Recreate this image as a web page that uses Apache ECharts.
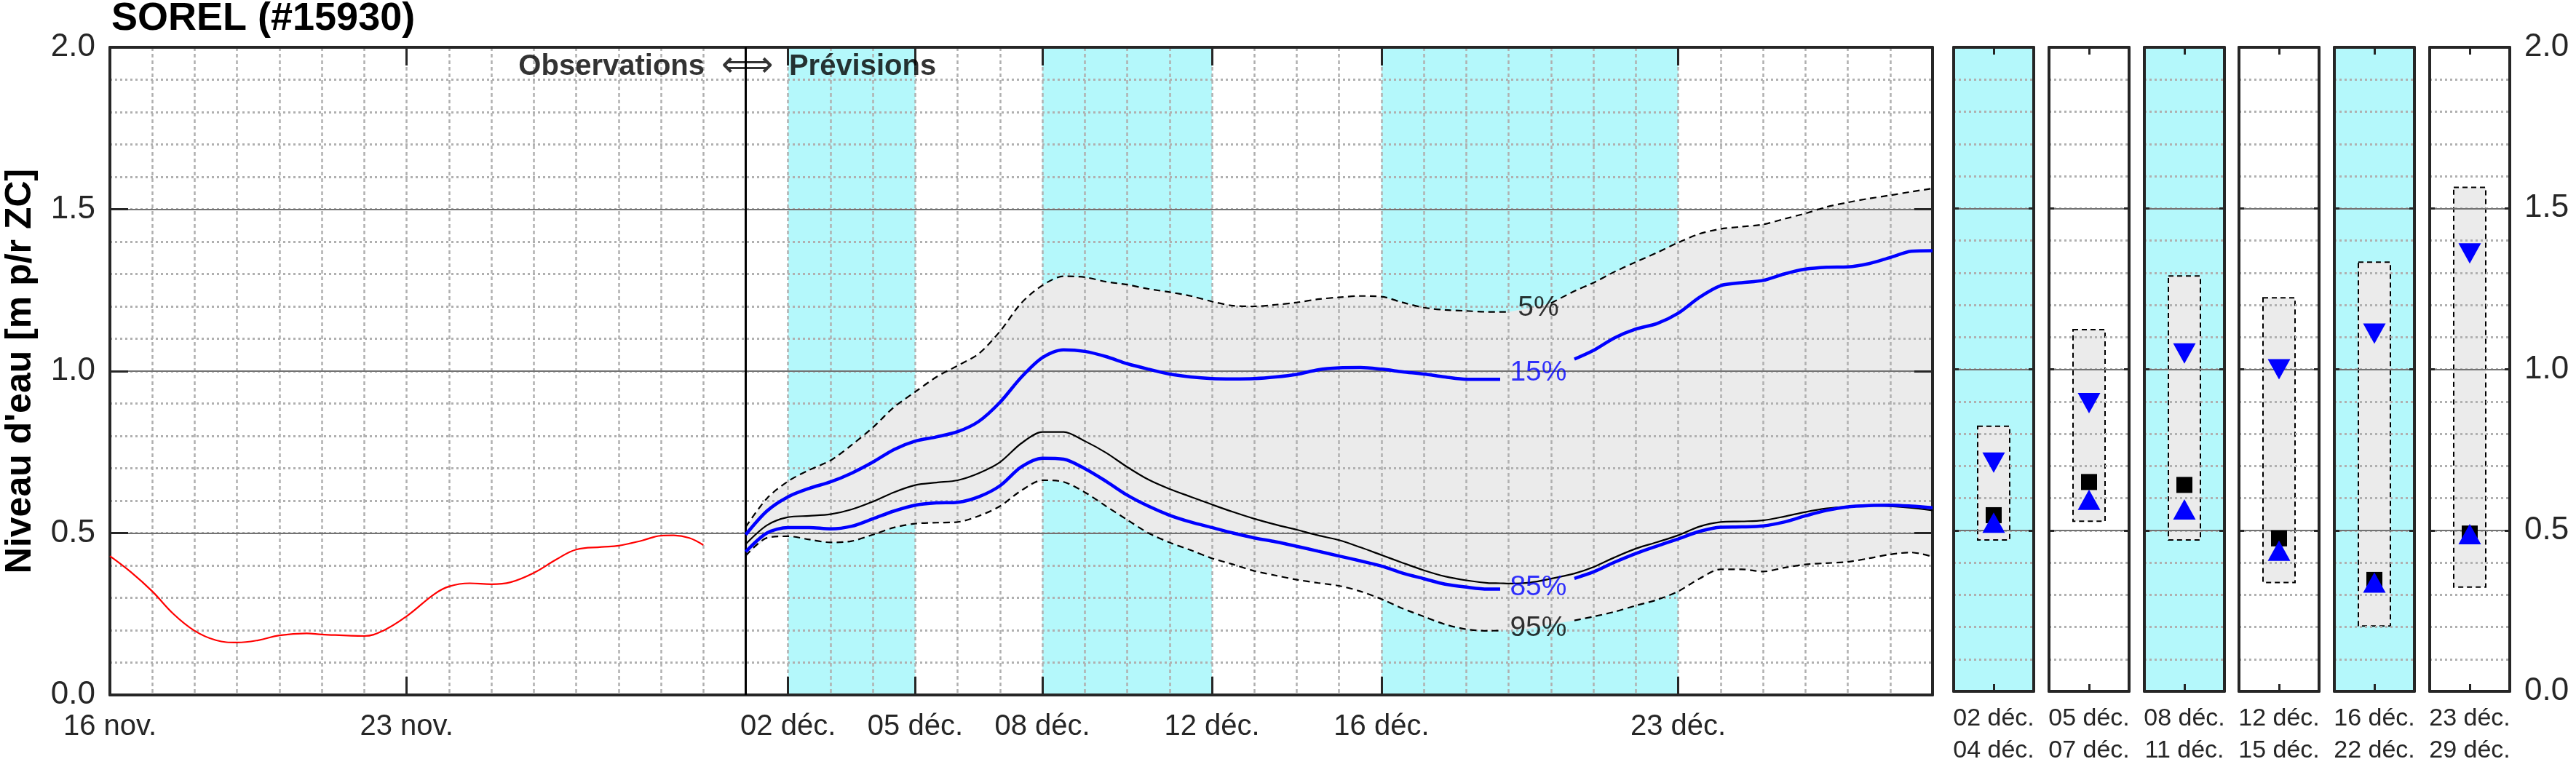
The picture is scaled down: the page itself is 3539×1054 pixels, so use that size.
<!DOCTYPE html>
<html><head><meta charset="utf-8">
<script src="https://cdn.jsdelivr.net/npm/echarts@6/dist/echarts.min.js"></script>
<style>html,body{margin:0;padding:0;background:#fff}#c{width:3539px;height:1054px}</style>
</head><body><div id="c"></div>
<script>
// ---------- DATA ----------
const TITLE = 'SOREL (#15930)';
const Y_TITLE = "Niveau d'eau [m p/r ZC]";
const X_MIN = 0, X_MAX = 43;               // days since 16 nov.
const X_TICK_DAYS = [0, 7, 16, 19, 22, 26, 30, 37];
const X_TICK_LABELS = ['16 nov.', '23 nov.', '02 déc.', '05 déc.', '08 déc.', '12 déc.', '16 déc.', '23 déc.'];
const NOW_DAY = 15;
const CYAN_BANDS = [[16, 19], [22, 26], [30, 37]];

const OBS_DAYS = [0,0.5,1,1.5,2,2.5,3,3.5,4,4.64,5,6,6.44,7,7.65,8,8.49,9,9.45,10,10.54,11,11.6,12,12.56,13,13.3,13.67,14];
const OBS_VALUES = [0.429,0.379,0.320,0.250,0.198,0.169,0.162,0.169,0.184,0.190,0.187,0.182,0.198,0.243,0.311,0.335,0.345,0.342,0.348,0.377,0.419,0.449,0.457,0.461,0.477,0.492,0.493,0.485,0.463];

const F_DAYS = [15,15.5,16,16.5,17,17.5,18,18.5,19,19.5,20,20.5,21,21.5,22,22.5,23,23.5,24,24.5,25,25.5,26,26.5,27,27.5,28,28.5,29,29.5,30,30.5,31,31.5,32,32.5,32.8,33,33.5,34,34.55,35,35.5,36,36.5,37,37.5,38,38.5,39,39.5,40,40.5,41,41.5,42,42.5,43];
const P5 = [0.519,0.607,0.660,0.695,0.724,0.772,0.826,0.889,0.936,0.982,1.017,1.054,1.123,1.210,1.265,1.293,1.290,1.276,1.267,1.254,1.244,1.232,1.215,1.202,1.200,1.205,1.212,1.222,1.228,1.232,1.230,1.212,1.196,1.189,1.186,1.183,1.183,1.183,1.195,1.210,1.247,1.273,1.307,1.337,1.366,1.397,1.424,1.439,1.446,1.453,1.470,1.487,1.507,1.521,1.533,1.543,1.554,1.564];
const P15 = [0.495,0.568,0.612,0.638,0.658,0.685,0.719,0.758,0.784,0.797,0.813,0.845,0.904,0.981,1.042,1.066,1.061,1.045,1.023,1.006,0.991,0.982,0.977,0.976,0.977,0.982,0.990,1.004,1.010,1.011,1.006,0.998,0.991,0.982,0.975,0.975,0.975,null,null,null,1.037,1.064,1.103,1.130,1.147,1.179,1.228,1.264,1.273,1.280,1.300,1.315,1.321,1.322,1.332,1.351,1.370,1.372];
const MED = [0.466,0.524,0.549,0.553,0.558,0.573,0.597,0.626,0.648,0.656,0.663,0.685,0.719,0.777,0.812,0.812,0.784,0.748,0.704,0.665,0.636,0.612,0.588,0.565,0.544,0.526,0.510,0.493,0.478,0.456,0.432,0.408,0.385,0.366,0.354,0.346,0.345,0.344,0.347,0.359,0.375,0.395,0.425,0.452,0.472,0.493,0.520,0.534,0.536,0.539,0.551,0.565,0.576,0.582,0.585,0.583,0.578,0.570];
const P85 = [0.442,0.500,0.517,0.517,0.513,0.521,0.544,0.568,0.586,0.593,0.595,0.612,0.646,0.704,0.731,0.728,0.699,0.660,0.617,0.583,0.555,0.534,0.517,0.500,0.485,0.473,0.459,0.444,0.429,0.414,0.398,0.376,0.359,0.342,0.333,0.327,0.327,null,null,null,0.360,0.380,0.410,0.437,0.460,0.482,0.505,0.518,0.519,0.522,0.534,0.553,0.570,0.581,0.585,0.586,0.583,0.578];
const P95 = [0.430,0.485,0.490,0.480,0.471,0.475,0.495,0.517,0.529,0.532,0.534,0.553,0.583,0.631,0.663,0.658,0.626,0.583,0.541,0.500,0.471,0.447,0.422,0.403,0.383,0.369,0.356,0.346,0.337,0.320,0.296,0.267,0.242,0.218,0.203,0.198,0.199,0.200,0.205,0.218,0.230,0.242,0.257,0.276,0.294,0.320,0.359,0.388,0.388,0.381,0.393,0.403,0.407,0.411,0.422,0.434,0.440,0.427];
const GAP_5 = [33.2, 33.9];     // label "5%" sits on the dashed line here
const GAP_95 = [32.9, 34.5];    // label "95%"

const PCT_TEXT = ['5%', '15%', '85%', '95%'];
const PCT_DAY = [33.7, 33.7, 33.7, 33.7];
const PCT_VAL = [1.196, 0.996, 0.331, 0.207];

const HEAD_TEXT = ['Observations', '⟺', 'Prévisions'];
const HEAD_DAY = [14.03, 15.04, 16.02];
const HEAD_VAL = [1.94, 1.94, 1.94];

const PANEL_START = ['02 déc.', '05 déc.', '08 déc.', '12 déc.', '16 déc.', '23 déc.'];
const PANEL_END = ['04 déc.', '07 déc.', '11 déc.', '15 déc.', '22 déc.', '29 déc.'];
const PANEL_P5 = [0.823, 1.123, 1.290, 1.222, 1.333, 1.565];
const PANEL_P95 = [0.470, 0.528, 0.470, 0.338, 0.203, 0.324];
const PANEL_P15 = [0.710, 0.895, 1.049, 1.000, 1.111, 1.360];
const PANEL_MED = [0.547, 0.650, 0.641, 0.475, 0.346, 0.490];
const PANEL_P85 = [0.524, 0.595, 0.565, 0.437, 0.338, 0.488];

// ---------- STYLE ----------
const FONT = '"Liberation Sans", Arial, Helvetica, sans-serif';
const FRAME = '#262626';
const TXT = '#262626';
const CYAN = '#b4f8fb';
const BAND = '#ebebeb';
const MINOR = '#b0b0b0';
const MAJOR = '#727272';
const BLUE = '#0000ff';

const MAIN = {left: 151, top: 65, width: 2504, height: 890};
const PANEL_LEFT = [2684, 2815, 2946, 3076, 3207, 3338];
const PANEL_W = 110;
const PANEL_CYAN = [true, false, true, false, true, false];

const chart = echarts.init(document.getElementById('c'), null, {renderer: 'canvas'});

const grids = [Object.assign({show: false}, MAIN)];
PANEL_LEFT.forEach((l, i) => grids.push({
  left: l, top: MAIN.top, width: PANEL_W, height: MAIN.height,
  show: true, backgroundColor: PANEL_CYAN[i] ? CYAN : '#ffffff', borderWidth: 0
}));

const frameLine = {show: true, onZero: false, lineStyle: {color: FRAME, width: 4}};
const noSplit = {show: false};

const xAxes = [
  { gridIndex: 0, type: 'value', min: X_MIN, max: X_MAX, interval: 1, position: 'bottom', z: 2,
    axisLine: {show: false}, axisTick: {show: false}, axisLabel: {show: false},
    splitLine: {show: true, showMinLine: false, showMaxLine: false, lineStyle: {color: MINOR, width: 2.5, type: [5, 4]}} },
  { gridIndex: 0, type: 'value', min: X_MIN, max: X_MAX, position: 'bottom', z: 4,
    axisLine: frameLine,
    axisTick: {show: true, inside: true, length: 25, customValues: X_TICK_DAYS, lineStyle: {color: FRAME, width: 3}},
    axisLabel: {show: true, customValues: X_TICK_DAYS, margin: 24, fontSize: 40, fontFamily: FONT, color: TXT,
      formatter: v => X_TICK_LABELS[X_TICK_DAYS.indexOf(Math.round(v))] || ''},
    splitLine: noSplit },
  { gridIndex: 0, type: 'value', min: X_MIN, max: X_MAX, position: 'top', z: 4,
    axisLine: frameLine,
    axisTick: {show: true, inside: true, length: 25, customValues: X_TICK_DAYS, lineStyle: {color: FRAME, width: 3}},
    axisLabel: {show: false}, splitLine: noSplit }
];
const yAxes = [
  { gridIndex: 0, type: 'value', min: 0, max: 2, interval: 0.1, position: 'left', z: 2,
    axisLine: {show: false}, axisTick: {show: false}, axisLabel: {show: false},
    splitLine: {show: true, showMinLine: false, showMaxLine: false, lineStyle: {color: MINOR, width: 3, type: [3, 4]}} },
  { gridIndex: 0, type: 'value', min: 0, max: 2, interval: 0.5, position: 'left', z: 3,
    axisLine: frameLine,
    axisTick: {show: true, inside: true, length: 25, lineStyle: {color: FRAME, width: 3}},
    axisLabel: {show: true, margin: 20, fontSize: 44, fontFamily: FONT, color: TXT, formatter: v => v.toFixed(1)},
    splitLine: {show: true, showMinLine: false, showMaxLine: false, lineStyle: {color: MAJOR, width: 2}} },
  { gridIndex: 0, type: 'value', min: 0, max: 2, interval: 0.5, position: 'right', z: 4,
    axisLine: frameLine,
    axisTick: {show: true, inside: true, length: 25, lineStyle: {color: FRAME, width: 3}},
    axisLabel: {show: false}, splitLine: noSplit }
];

PANEL_LEFT.forEach((l, i) => {
  const g = i + 1;
  xAxes.push({ gridIndex: g, type: 'category', data: [PANEL_START[i] + '\n' + PANEL_END[i]], position: 'bottom', z: 4,
    axisLine: frameLine,
    axisTick: {show: true, inside: true, alignWithLabel: true, length: 10, lineStyle: {color: FRAME, width: 3}},
    axisLabel: {show: true, interval: 0, margin: 16, fontSize: 34, lineHeight: 44, fontFamily: FONT, color: TXT},
    splitLine: noSplit });
  xAxes.push({ gridIndex: g, type: 'category', data: [''], position: 'top', z: 4,
    axisLine: frameLine,
    axisTick: {show: true, inside: true, alignWithLabel: true, length: 10, lineStyle: {color: FRAME, width: 3}},
    axisLabel: {show: false}, splitLine: noSplit });
  yAxes.push({ gridIndex: g, type: 'value', min: 0, max: 2, interval: 0.1, position: 'left', z: 2,
    axisLine: {show: false}, axisTick: {show: false}, axisLabel: {show: false},
    splitLine: {show: true, showMinLine: false, showMaxLine: false, lineStyle: {color: MINOR, width: 3, type: [3, 4]}} });
  yAxes.push({ gridIndex: g, type: 'value', min: 0, max: 2, interval: 0.5, position: 'left', z: 3,
    axisLine: frameLine,
    axisTick: {show: true, inside: true, length: 7, lineStyle: {color: FRAME, width: 3}},
    axisLabel: {show: false},
    splitLine: {show: true, showMinLine: false, showMaxLine: false, lineStyle: {color: MAJOR, width: 2}} });
  yAxes.push({ gridIndex: g, type: 'value', min: 0, max: 2, interval: 0.5, position: 'right', z: 4,
    axisLine: frameLine,
    axisTick: {show: true, inside: true, length: 7, lineStyle: {color: FRAME, width: 3}},
    axisLabel: {show: i === PANEL_LEFT.length - 1, margin: 20, fontSize: 44, fontFamily: FONT, color: TXT, formatter: v => v.toFixed(1)},
    splitLine: noSplit });
});

function pairs(days, vals, gap) {
  return days.map((d, i) => {
    const v = vals[i];
    if (v === null || v === undefined) return [d, '-'];
    if (gap && d > gap[0] && d < gap[1]) return [d, '-'];
    return [d, v];
  });
}

const SM = 0.3;
const series = [
  { type: 'custom', name: 'cyan', xAxisIndex: 0, yAxisIndex: 0, z: 0, silent: true,
    data: CYAN_BANDS,
    renderItem: (params, api) => {
      const a = api.coord([api.value(0), 2]);
      const b = api.coord([api.value(1), 0]);
      return {type: 'rect', shape: {x: a[0], y: a[1], width: b[0] - a[0], height: b[1] - a[1]}, style: {fill: CYAN}};
    } },
  { type: 'custom', name: 'band', xAxisIndex: 0, yAxisIndex: 0, z: 1, silent: true,
    data: [[F_DAYS[0], P5[0]]],
    renderItem: (params, api) => {
      const up = F_DAYS.map((d, i) => api.coord([d, P5[i]]));
      const lo = F_DAYS.map((d, i) => api.coord([d, P95[i]])).reverse();
      return {type: 'polygon', shape: {points: up.concat(lo)}, style: {fill: BAND}};
    } },
  { type: 'line', name: 'obs', xAxisIndex: 0, yAxisIndex: 0, z: 5, data: pairs(OBS_DAYS, OBS_VALUES),
    symbol: 'none', smooth: 0.4, lineStyle: {color: '#ff0000', width: 2.2} },
  { type: 'line', name: '5%', xAxisIndex: 0, yAxisIndex: 0, z: 5, data: pairs(F_DAYS, P5, GAP_5),
    symbol: 'none', smooth: SM, lineStyle: {color: '#000', width: 2.2, type: [9, 6]} },
  { type: 'line', name: '95%', xAxisIndex: 0, yAxisIndex: 0, z: 5, data: pairs(F_DAYS, P95, GAP_95),
    symbol: 'none', smooth: SM, lineStyle: {color: '#000', width: 2.2, type: [9, 6]} },
  { type: 'line', name: 'median', xAxisIndex: 0, yAxisIndex: 0, z: 5, data: pairs(F_DAYS, MED),
    symbol: 'none', smooth: SM, lineStyle: {color: '#000', width: 2.2},
    markLine: {silent: true, symbol: ['none', 'none'], label: {show: false},
      lineStyle: {color: '#000', width: 3, type: 'solid'}, data: [{xAxis: NOW_DAY}]} },
  { type: 'line', name: '15%', xAxisIndex: 0, yAxisIndex: 0, z: 6, data: pairs(F_DAYS, P15),
    symbol: 'none', smooth: SM, lineStyle: {color: BLUE, width: 4.5} },
  { type: 'line', name: '85%', xAxisIndex: 0, yAxisIndex: 0, z: 6, data: pairs(F_DAYS, P85),
    symbol: 'none', smooth: SM, lineStyle: {color: BLUE, width: 4.5} },
  { type: 'scatter', name: 'pct', xAxisIndex: 0, yAxisIndex: 0, z: 7, silent: true, symbolSize: 1,
    itemStyle: {color: 'rgba(0,0,0,0)'},
    data: PCT_TEXT.map((t, i) => ({ value: [PCT_DAY[i], PCT_VAL[i]],
      label: {show: true, position: 'inside', formatter: t, fontSize: 39, fontFamily: FONT,
        color: (t === '15%' || t === '85%') ? BLUE : '#000', align: 'center', verticalAlign: 'middle'} })) },
  { type: 'scatter', name: 'head', xAxisIndex: 0, yAxisIndex: 0, z: 7, silent: true, symbolSize: 1,
    itemStyle: {color: 'rgba(0,0,0,0)'},
    data: HEAD_TEXT.map((t, i) => ({ value: [HEAD_DAY[i], HEAD_VAL[i]],
      label: {show: true, position: 'inside', formatter: t, color: '#000', verticalAlign: 'middle',
        align: i === 0 ? 'right' : (i === 1 ? 'center' : 'left'),
        fontSize: i === 1 ? 50 : 40, fontWeight: i === 1 ? 'normal' : 'bold',
        fontFamily: i === 1 ? '"DejaVu Sans", sans-serif' : FONT} })) }
];

PANEL_LEFT.forEach((l, i) => {
  const xi = 3 + 2 * i, yi = 3 + 3 * i;
  series.push({ type: 'custom', xAxisIndex: xi, yAxisIndex: yi, z: 1, silent: true,
    data: [[0, PANEL_P5[i], PANEL_P95[i]]],
    renderItem: (params, api) => {
      const t = api.coord([0, api.value(1)]);
      const b = api.coord([0, api.value(2)]);
      const w = 44;
      return {type: 'rect', shape: {x: t[0] - w / 2, y: t[1], width: w, height: b[1] - t[1]},
        style: {fill: BAND, stroke: '#000', lineWidth: 2, lineDash: [7, 5]}};
    } });
  series.push({ type: 'scatter', xAxisIndex: xi, yAxisIndex: yi, z: 6, silent: true,
    data: [
      {value: [0, PANEL_MED[i]], symbol: 'rect', symbolSize: [22, 22], itemStyle: {color: '#000', opacity: 1}},
      {value: [0, PANEL_P15[i]], symbol: 'triangle', symbolRotate: 180, symbolSize: [31, 28], itemStyle: {color: BLUE, opacity: 1}},
      {value: [0, PANEL_P85[i]], symbol: 'triangle', symbolSize: [31, 28], itemStyle: {color: BLUE, opacity: 1}}
    ] });
});

chart.setOption({
  animation: false,
  backgroundColor: '#ffffff',
  grid: grids,
  xAxis: xAxes,
  yAxis: yAxes,
  series: series,
  graphic: [
    {type: 'text', x: 153, y: 26, style: {text: TITLE, fontSize: 54, fontWeight: 'bold', fontFamily: FONT, fill: '#000', align: 'left', verticalAlign: 'middle'}},
    {type: 'text', x: 28, y: 510, rotation: Math.PI / 2, style: {text: Y_TITLE, fontSize: 50, fontWeight: 'bold', fontFamily: FONT, fill: '#000', align: 'center', verticalAlign: 'middle'}}
  ]
});
</script>
</body></html>
